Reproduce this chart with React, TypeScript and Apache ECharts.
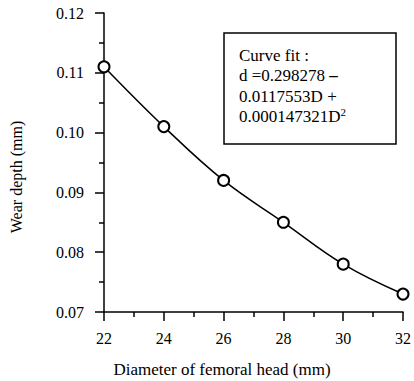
import React, { useEffect, useRef } from "react";
import * as echarts from "echarts";

const diameters = [22, 24, 26, 28, 30, 32];
const wearDepth = [0.111, 0.101, 0.092, 0.085, 0.078, 0.073];
const xTitle = "Diameter of femoral head (mm)";
const yTitle = "Wear depth (mm)";
const fitLines = ["Curve fit :", "d =0.298278 {b|–}", "0.0117553D +", "0.000147321D{sup|2}"];

const FONT = "Liberation Serif";

export default function App() {
  const ref = useRef<HTMLDivElement>(null);
  useEffect(() => {
    if (!ref.current) return;
    const chart = echarts.init(ref.current, null, { renderer: "svg" });
    const axisLine = { show: true, lineStyle: { color: "#000", width: 1.5 } };
    chart.setOption({
      animation: false,
      backgroundColor: "#fff",
      textStyle: { fontFamily: FONT },
      grid: { left: 104, right: 9, top: 13, bottom: 69, containLabel: false },
      xAxis: {
        type: "value",
        min: 22,
        max: 32,
        interval: 2,
        axisLine,
        axisTick: { show: true, length: 9, lineStyle: { color: "#000", width: 1.5 } },
        minorTick: { show: true, splitNumber: 2, length: 5, lineStyle: { color: "#000", width: 1.5 } },
        splitLine: { show: false },
        axisLabel: { color: "#000", fontFamily: FONT, fontSize: 16, margin: 18 },
      },
      yAxis: {
        type: "value",
        min: 0.07,
        max: 0.12,
        interval: 0.01,
        axisLine,
        axisTick: { show: true, length: 9, lineStyle: { color: "#000", width: 1.5 } },
        minorTick: { show: true, splitNumber: 2, length: 5, lineStyle: { color: "#000", width: 1.5 } },
        splitLine: { show: false },
        axisLabel: {
          color: "#000",
          fontFamily: FONT,
          fontSize: 16,
          margin: 20,
          formatter: (v: number) => v.toFixed(2),
        },
      },
      series: [
        {
          type: "line",
          data: diameters.map((d, i) => [d, wearDepth[i]]),
          smooth: 0.4,
          symbol: "emptyCircle",
          symbolSize: 11,
          lineStyle: { color: "#000", width: 1.5 },
          itemStyle: { color: "#000", borderColor: "#000", borderWidth: 1.5 },
        },
      ],
      graphic: [
        {
          type: "text",
          x: 222,
          y: 369,
          style: {
            text: xTitle,
            fontFamily: FONT,
            fontSize: 17,
            fill: "#000",
            align: "center",
            verticalAlign: "middle",
          },
        },
        {
          type: "text",
          x: 16,
          y: 177,
          rotation: Math.PI / 2,
          style: {
            text: yTitle,
            fontFamily: FONT,
            fontSize: 16,
            fill: "#000",
            align: "center",
            verticalAlign: "middle",
          },
        },
        {
          type: "rect",
          shape: { x: 224, y: 33, width: 172, height: 111 },
          style: { fill: "#fff", stroke: "#000", lineWidth: 1.5 },
          z: 10,
        },
        {
          type: "text",
          x: 239,
          y: 45,
          z: 11,
          style: {
            text: fitLines.join("\n"),
            fontFamily: FONT,
            fontSize: 17,
            lineHeight: 20.5,
            fill: "#000",
            rich: {
              b: { fontFamily: FONT, fontSize: 17, fontWeight: "bold", lineHeight: 20.5 },
              sup: { fontFamily: FONT, fontSize: 11, verticalAlign: "top", lineHeight: 20.5, padding: [0, 0, 8, 0] },
            },
          },
        },
      ],
    });
    return () => chart.dispose();
  }, []);
  return (
    <div
      ref={ref}
      style={{ position: "fixed", left: 0, top: 0, width: 414, height: 381 }}
    />
  );
}
